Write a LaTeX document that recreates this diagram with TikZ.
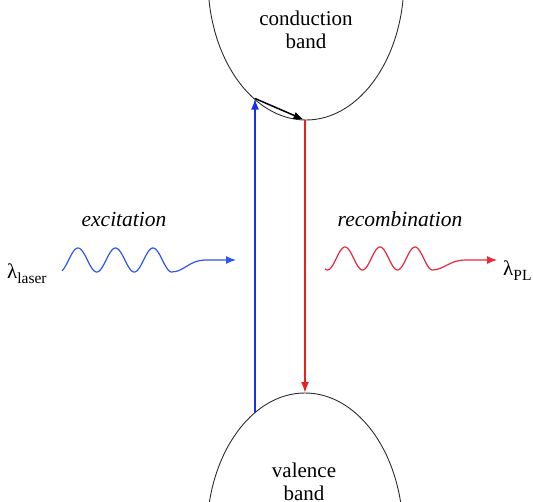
\documentclass[tikz,border=0pt]{standalone}
\usepackage{fontspec}
\setmainfont{Liberation Serif}
\newfontfamily\tnr{Liberation Serif}
\usetikzlibrary{arrows.meta}
\definecolor{bandline}{RGB}{45,45,45}
\definecolor{exblue}{RGB}{25,45,235}
\definecolor{wblue}{RGB}{45,85,235}
\definecolor{exred}{RGB}{235,30,30}
\definecolor{wred}{RGB}{235,40,60}
\newcommand\lamsub[1]{\raisebox{-5pt}{\fontsize{15.5}{15}\selectfont #1}}
\begin{document}
\begin{tikzpicture}[x=1pt,y=-1pt,
  band/.style={draw=bandline, line width=0.9pt},
  lbl/.style={font=\tnr\fontsize{21}{24}\selectfont, inner sep=0pt, anchor=base},
  ilbl/.style={lbl, font=\tnr\fontsize{21.5}{24}\selectfont\itshape},
  trans/.style={line width=1.8pt, -{Latex[length=11pt,width=8pt]}},
  wave/.style={line width=1.2pt, -{Latex[length=10pt,width=8pt]}}]
\useasboundingbox (0,0) rectangle (533,501);
\begin{scope}
  \clip (0,0) rectangle (533,501);
  \draw[band] (306,-20) ellipse [x radius=98pt, y radius=140pt];
  \draw[band] (305,533) ellipse [x radius=98pt, y radius=140pt];
\end{scope}
% transition points
\coordinate (vbL) at (255,412.6);
\coordinate (cbL) at (255,98.5);
\coordinate (cbB) at (305,120);
\coordinate (cbE) at (303.5,119.5);
\coordinate (vbT) at (305,393);
% texts
\node[lbl] (cb1) at (306,25) {conduction};
\node[lbl] (cb2) at (306,48) {band};
\node[lbl] (vb1) at (304,477) {valence};
\node[lbl] (vb2) at (304,500) {band};
\node[ilbl] (exc) at (124,226.5) {excitation};
\node[ilbl] (rec) at (400,226) {recombination};
\node[lbl, anchor=base west] (laml) at (7,278) {λ\lamsub{laser}};
\node[lbl, anchor=base west] (lampl) at (503,275) {λ\lamsub{PL}};
% transitions
\draw[trans, exblue] (vbL) -- (cbL);
\draw[line width=1.5pt, black, -{Latex[length=10pt,width=7.5pt]}] (cbL) -- (cbE);
\draw[trans, exred] (cbB) -- (vbT);
% waves
\draw[wave, wblue] plot[domain=62:173, samples=120, smooth] (\x,{260-12*cos(9.6*(\x-78))})
  .. controls (183,272) and (190,260) .. (205,260) -- (236,260);
\draw[wave, wred] plot[domain=325:433, samples=120, smooth] (\x,{258.5-11.5*cos(10.2857*(\x-345))})
  .. controls (443,270) and (450,260) .. (465,260) -- (497,260);
\end{tikzpicture}
\end{document}
